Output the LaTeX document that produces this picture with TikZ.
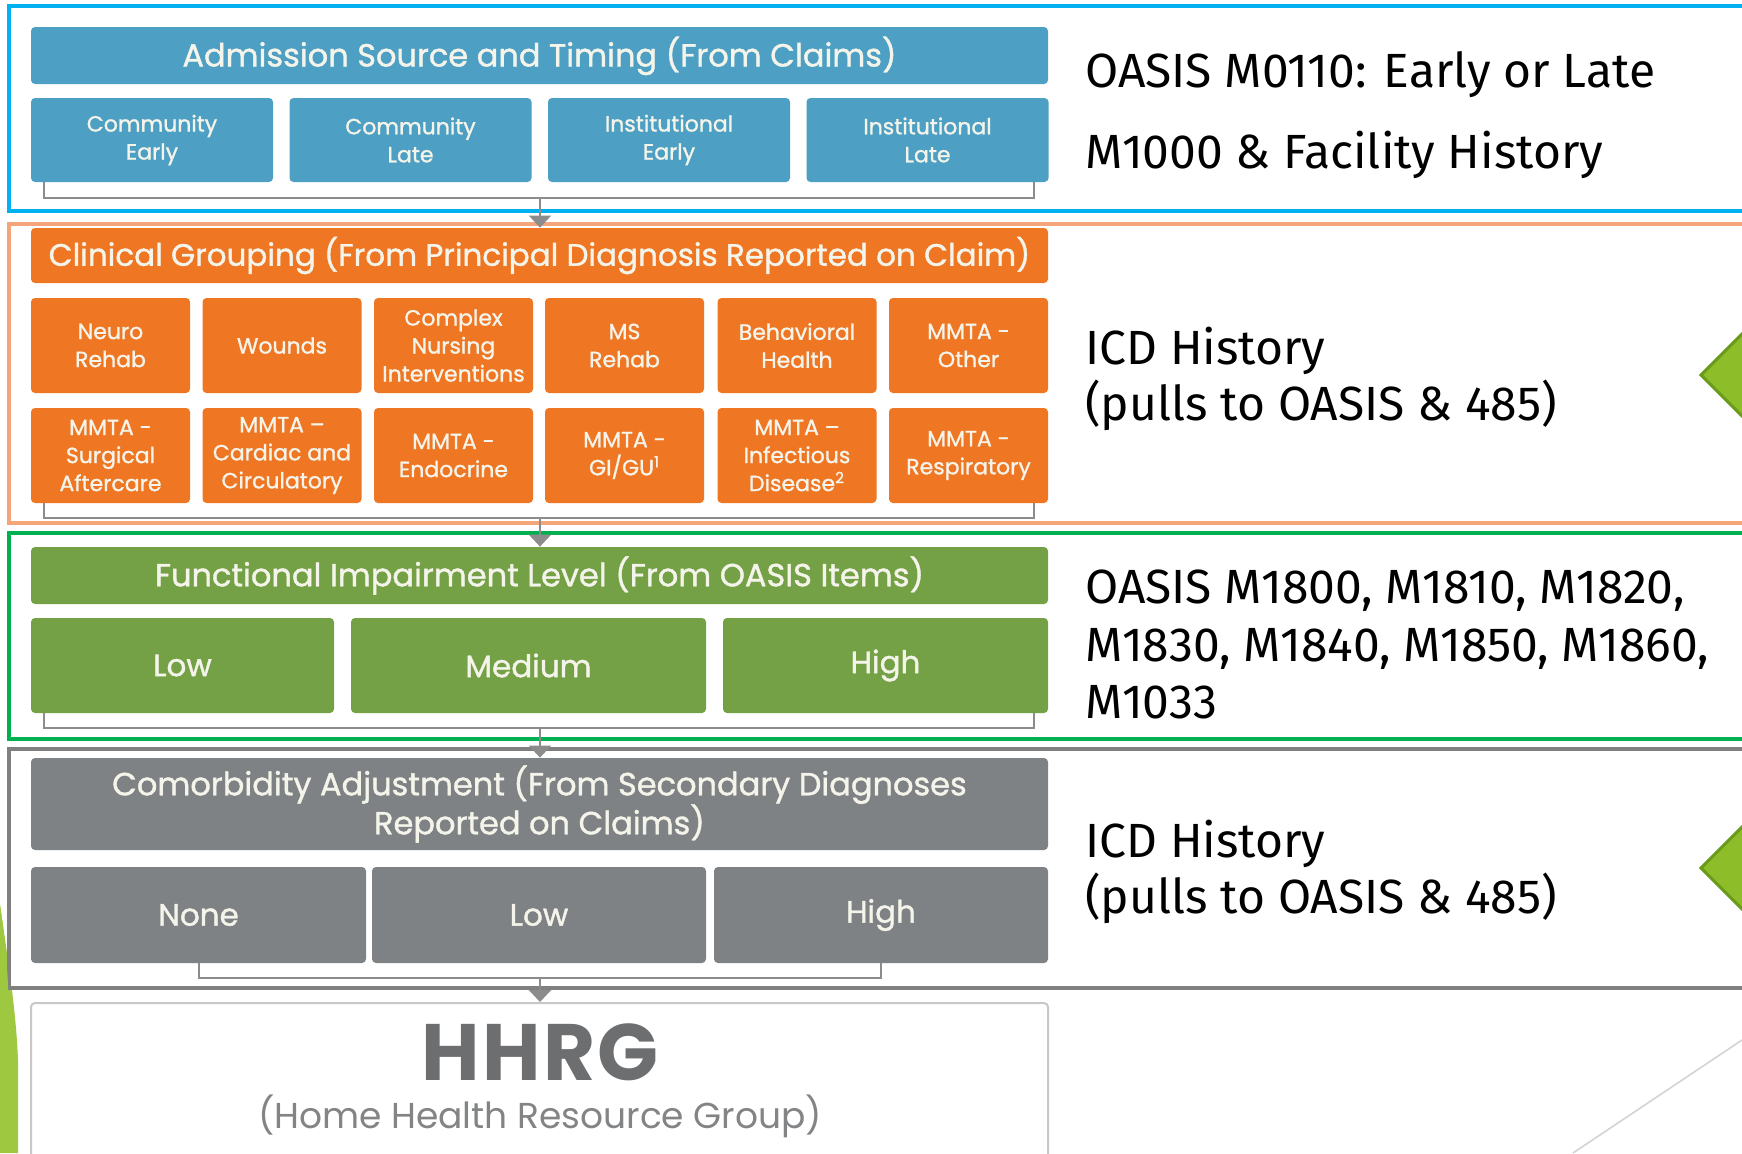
\documentclass[tikz,border=0pt]{standalone}
\usepackage{fontspec}
\setmainfont{Poppins}
\newfontfamily\boxfont{Poppins}[FakeBold=1.2]
\newfontfamily\rfont{Fira Sans}
\usetikzlibrary{arrows.meta,calc}
\definecolor{frblue}{HTML}{00B0F0}
\definecolor{frorange}{HTML}{F4A57A}
\definecolor{frgreen}{HTML}{00B050}
\definecolor{frgray}{HTML}{808080}
\definecolor{bxblue}{HTML}{4D9FC3}
\definecolor{bxorange}{HTML}{EF7623}
\definecolor{bxgreen}{HTML}{74A046}
\definecolor{bxgray}{HTML}{7F8285}
\definecolor{bxtext}{HTML}{F4F4EA}
\definecolor{brkgray}{HTML}{8C8C8C}
\definecolor{hhgray}{HTML}{6D6E70}
\definecolor{hhborder}{HTML}{C8C8C8}
\definecolor{dmfill}{HTML}{8DBE2A}
\definecolor{dmdraw}{HTML}{6A9A1A}
\definecolor{wedge}{HTML}{9DC83F}
\definecolor{thinline}{HTML}{D4D4D4}
\begin{document}
\begin{tikzpicture}[x=0.5pt,y=-0.5pt,
  bx/.style={rounded corners=2pt, inner sep=0pt, align=center, text=bxtext,
    font=\boxfont\fontsize{11}{14}\selectfont},
  hdr/.style={bx, font=\boxfont\fontsize{16}{19.5}\selectfont, minimum width=508.5pt},
  big/.style={bx, font=\boxfont\fontsize{15.5}{19}\selectfont},
  frame/.style={line width=2pt},
  brk/.style={draw=brkgray, line width=1pt},
  arr/.style={brk, -{Triangle[width=11pt,length=6pt]}, fill=brkgray},
  rt/.style={anchor=base west, inner sep=0pt, font=\rfont\fontsize{24}{28}\selectfont},
  dm/.style={fill=dmfill, draw=dmdraw, line width=1.5pt}]
\useasboundingbox (0,0) rectangle (1742,1153);
\clip (0,0) rectangle (1742,1153);
\fill[white] (0,0) rectangle (1742,1153);
% decorative shapes
\fill[wedge] (0,905) .. controls (8,960) and (16,1010) .. (18,1060) -- (18,1153) -- (0,1153) -- cycle;
\draw[thinline, line width=0.8pt] (1573,1153) -- (1742,1040);
% frames
\draw[frame, draw=frblue, fill=white] (9,6) rectangle (1770,211);
\draw[frame, draw=frorange, fill=white] (9,224) rectangle (1770,523);
\draw[frame, draw=frgreen, fill=white] (9,533) rectangle (1770,739);
\draw[frame, draw=frgray, fill=white] (9,749) rectangle (1770,988);
\fill[wedge] (0,905) .. controls (4,930) and (7,960) .. (8,985) -- (8,990) -- (0,990) -- cycle;
% diamonds
\draw[dm] (1701,375) -- (1760,316) -- (1819,375) -- (1760,434) -- cycle;
\draw[dm] (1701,868) -- (1760,809) -- (1819,868) -- (1760,927) -- cycle;
% blue section
\node[hdr, fill=bxblue, minimum height=28.5pt, text height=15pt, text depth=4pt] (hA) at (539.5,55.5) {Admission Source and Timing (From Claims)};
\foreach \n/\x/\t in {a1/152/{Community\\Early}, a2/410.5/{Community\\Late}, a3/669/{Institutional\\Early}, a4/927.5/{Institutional\\Late}}
  \node[bx, fill=bxblue, minimum width=121pt, minimum height=42pt] (\n) at (\x,140) {\t};
% orange section
\node[hdr, fill=bxorange, minimum height=27.5pt, font=\boxfont\fontsize{15.5}{19.5}\selectfont] (hB) at (539.5,255.5) {Clinical Grouping (From Principal Diagnosis Reported on Claim)};
\foreach \n/\x/\t in {c1/110.5/{Neuro\\Rehab}, c2/282/{Wounds}, c3/453.5/{Complex\\Nursing\\Interventions}, c4/624.5/{MS\\Rehab}, c5/797/{Behavioral\\Health}, c6/968.5/{MMTA -\\Other}}
  \node[bx, fill=bxorange, minimum width=79.5pt, minimum height=47.5pt] (\n) at (\x,345.5) {\t};
\foreach \n/\x/\t in {d1/110.5/{MMTA -\\Surgical\\Aftercare}, d2/282/{MMTA –\\Cardiac and\\Circulatory}, d3/453.5/{MMTA -\\Endocrine}, d4/624.5/{MMTA -\\GI/GU\textsuperscript{1}}, d5/797/{MMTA –\\Infectious\\Disease\textsuperscript{2}}, d6/968.5/{MMTA -\\Respiratory}}
  \node[bx, fill=bxorange, minimum width=79.5pt, minimum height=47.5pt] (\n) at (\x,455.5) {\t};
% green section
\node[hdr, fill=bxgreen, minimum height=28.5pt] (hC) at (539.5,575.5) {Functional Impairment Level (From OASIS Items)};
\node[big, fill=bxgreen, minimum width=151.5pt, minimum height=47.5pt] (g1) at (182.5,665.5) {Low};
\node[big, fill=bxgreen, minimum width=177.5pt, minimum height=47.5pt] (g2) at (528.5,665.5) {Medium};
\node[big, fill=bxgreen, minimum width=162.5pt, minimum height=47.5pt] (g3) at (885.5,665.5) {High};
% gray section
\node[hdr, fill=bxgray, minimum height=46pt] (hD) at (539.5,804) {Comorbidity Adjustment (From Secondary Diagnoses\\Reported on Claims)};
\node[big, fill=bxgray, minimum width=167.5pt, minimum height=48pt] (k1) at (198.5,915) {None};
\node[big, fill=bxgray, minimum width=167pt, minimum height=48pt] (k2) at (539,915) {Low};
\node[big, fill=bxgray, minimum width=167pt, minimum height=48pt] (k3) at (881,915) {High};
% HHRG box
\node[draw=hhborder, line width=1pt, rounded corners=2pt, minimum width=508.5pt, minimum height=90pt, inner sep=0pt] (hh) at (539.5,1093) {};
\node[inner sep=0pt, text=hhgray, font=\bfseries\fontsize{40}{40}\selectfont\addfontfeatures{LetterSpace=3}] (hhT) at (540,1052) {HHRG};
\node[inner sep=0pt, text=hhgray!85, font=\fontsize{18}{20}\selectfont] (hhS) at (540,1116) {(Home Health Resource Group)};
% brackets and arrows
\coordinate (bl1) at (44,198); \coordinate (br1) at (1034,198); \coordinate (bm1) at (540,198);
\draw[brk] (a1.south -| bl1) -- (bl1) -- (br1) -- (a4.south -| br1);
\draw[arr] (bm1) -- (hB.north -| bm1);
\coordinate (bl2) at (44,518); \coordinate (br2) at (1034,518); \coordinate (bm2) at (540,518);
\draw[brk] (d1.south -| bl2) -- (bl2) -- (br2) -- (d6.south -| br2);
\draw[arr] (bm2) -- (hC.north -| bm2);
\coordinate (bl3) at (44,728); \coordinate (br3) at (1034,728); \coordinate (bm3) at (540,728);
\draw[brk] (g1.south -| bl3) -- (bl3) -- (br3) -- (g3.south -| br3);
\draw[arr] (bm3) -- (hD.north -| bm3);
\coordinate (bl4) at (198.5,978); \coordinate (br4) at (881,978); \coordinate (bm4) at (540,978);
\draw[brk] (k1.south) -- (bl4) -- (br4) -- (k3.south);
\draw[arr] (bm4) -- (hh.north -| bm4);
% right-hand texts
\node[rt] (r1) at (1085,87) {OASIS M0110: Early or Late};
\node[rt] (r2) at (1085,168) {M1000 \& Facility History};
\node[rt] (r3) at (1085,364) {ICD History};
\node[rt] (r4) at (1085,420) {(pulls to OASIS \& 485)};
\node[rt] (r5) at (1085,603) {OASIS M1800, M1810, M1820,};
\node[rt] (r6) at (1085,661) {M1830, M1840, M1850, M1860,};
\node[rt] (r7) at (1085,718) {M1033};
\node[rt] (r8) at (1085,857) {ICD History};
\node[rt] (r9) at (1085,913) {(pulls to OASIS \& 485)};
\end{tikzpicture}
\end{document}
